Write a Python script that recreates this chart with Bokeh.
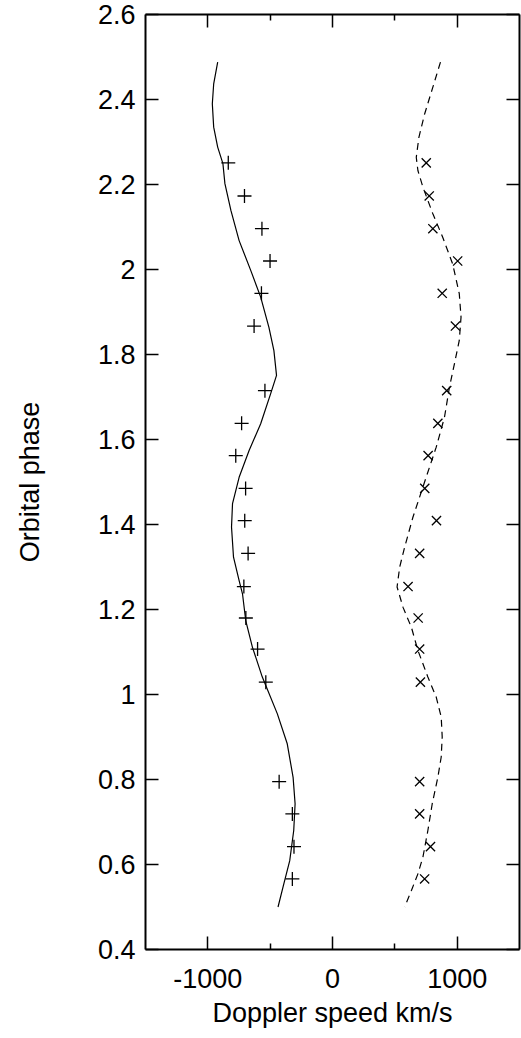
from bokeh.plotting import figure
from bokeh.models import Range1d, FixedTicker, LinearAxis, CustomJSTickFormatter
from bokeh.embed import file_html
from bokeh.resources import INLINE

# Observed orbital phases (shared by both series)
obs_phase = [2.251, 2.173, 2.096, 2.020, 1.944, 1.867, 1.715, 1.638, 1.562, 1.485,
             1.409, 1.332, 1.254, 1.180, 1.107, 1.029, 0.795, 0.719, 0.642, 0.566]
# Measured Doppler speeds (km/s)
obs_left = [-836, -706, -566, -501, -570, -629, -542, -729, -776, -697,
            -704, -677, -711, -695, -601, -535, -428, -322, -309, -322]
obs_right = [752, 776, 805, 1004, 880, 986, 916, 845, 767, 740,
             834, 699, 606, 687, 699, 705, 699, 699, 786, 739]

# Model curves
model_left_phase = [2.488, 2.437, 2.390, 2.335, 2.288, 2.249, 2.202, 2.139, 2.068, 1.998,
                    1.935, 1.864, 1.809, 1.751, 1.708, 1.637, 1.574, 1.511, 1.449, 1.394,
                    1.323, 1.268, 1.237, 1.174, 1.111, 1.041, 0.955, 0.884, 0.805, 0.743,
                    0.680, 0.609, 0.555, 0.500]
model_left_speed = [-921, -953, -964, -953, -921, -879, -863, -815, -749, -656,
                    -576, -510, -470, -449, -496, -576, -669, -749, -802, -810,
                    -794, -749, -722, -696, -642, -563, -443, -363, -316, -300,
                    -311, -343, -390, -437]
model_right_phase = [2.488, 2.429, 2.366, 2.311, 2.264, 2.233, 2.194, 2.131, 2.076, 2.013,
                     1.943, 1.888, 1.833, 1.778, 1.723, 1.652, 1.582, 1.488, 1.417, 1.347,
                     1.300, 1.253, 1.205, 1.158, 1.104, 1.041, 0.994, 0.947, 0.900, 0.853,
                     0.805, 0.743, 0.680, 0.617, 0.578, 0.539, 0.500]
model_right_speed = [866, 805, 739, 693, 672, 685, 725, 805, 884, 964,
                     1017, 1031, 1017, 978, 938, 898, 832, 725, 645, 579,
                     539, 518, 566, 633, 685, 765, 832, 872, 880, 872,
                     845, 800, 765, 725, 685, 633, 579]

x_ticks = [-1000, 0, 1000]
x_minor = [-500, 500]
y_ticks = [0.4, 0.6, 0.8, 1.0, 1.2, 1.4, 1.6, 1.8, 2.0, 2.2, 2.4, 2.6]

FONT = "Liberation Sans"
FS = "27px"

p = figure(width=521, height=1038, output_backend="svg", toolbar_location=None,
           x_range=Range1d(-1500, 1500), y_range=Range1d(0.4, 2.6),
           min_border_left=145, min_border_right=2, min_border_top=14, min_border_bottom=89)
p.outline_line_color = None
p.xgrid.visible = False
p.ygrid.visible = False
p.background_fill_color = "white"
p.border_fill_color = "white"

xfmt = CustomJSTickFormatter(code="return tick.toFixed(0);")
yfmt = CustomJSTickFormatter(code="return (Math.round(tick*10)/10).toString();")
blank = CustomJSTickFormatter(code="return '';")

def style(ax, ticks, minor):
    ax.ticker = FixedTicker(ticks=ticks, minor_ticks=minor)
    ax.axis_line_color = "black"
    ax.axis_line_width = 2
    ax.major_tick_line_color = "black"
    ax.major_tick_line_width = 1.5
    ax.minor_tick_line_color = "black"
    ax.minor_tick_line_width = 1.5
    ax.major_tick_in = 13
    ax.major_tick_out = 0
    ax.minor_tick_in = 6
    ax.minor_tick_out = 0
    ax.major_label_text_font = FONT
    ax.major_label_text_font_size = FS
    ax.major_label_text_color = "black"
    ax.axis_label_text_font = FONT
    ax.axis_label_text_font_size = FS
    ax.axis_label_text_font_style = "normal"
    ax.axis_label_text_color = "black"

xb = p.xaxis[0]
style(xb, x_ticks, x_minor)
xb.formatter = xfmt
xb.axis_label = "Doppler speed km/s"
xb.major_label_standoff = 19
xb.axis_label_standoff = 7

yl = p.yaxis[0]
style(yl, y_ticks, [])
yl.formatter = yfmt
yl.axis_label = "Orbital phase"
yl.major_label_standoff = 10
yl.axis_label_standoff = 50

xt = LinearAxis()
style(xt, x_ticks, x_minor)
xt.formatter = blank
xt.major_label_standoff = 0
p.add_layout(xt, "above")

yr = LinearAxis()
style(yr, y_ticks, [])
yr.formatter = blank
yr.major_label_standoff = 0
p.add_layout(yr, "right")

p.line(model_left_speed, model_left_phase, line_color="black", line_width=1.2)
p.line(model_right_speed, model_right_phase, line_color="black", line_width=1.2,
       line_dash="7 5")
p.scatter(obs_left, obs_phase, marker="cross", size=14, line_color="black", line_width=1.3)
p.scatter(obs_right, obs_phase, marker="x", size=13, line_color="black", line_width=1.3)

open("out.html", "w").write(file_html(p, INLINE))
